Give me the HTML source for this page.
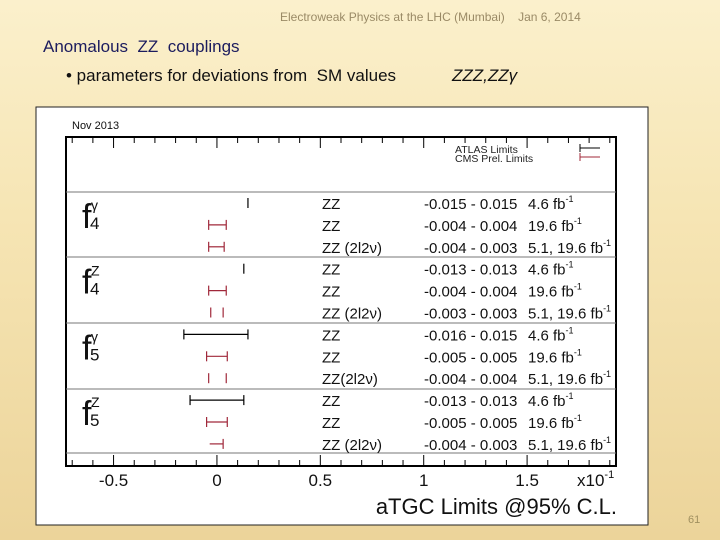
<!DOCTYPE html>
<html><head><meta charset="utf-8"><style>
body{margin:0;width:720px;height:540px;overflow:hidden;font-family:"Liberation Sans",sans-serif;
background:linear-gradient(180deg,#fbf0cc 0%,#f6e5b4 40%,#ecd49a 100%);position:relative}
.t{position:absolute;white-space:nowrap}
</style></head><body>
<div class="t" style="left:280px;top:10px;font-size:12px;color:#9a8a66">Electroweak Physics at the LHC (Mumbai) &nbsp;&nbsp; Jan 6, 2014</div>
<div class="t" style="left:43px;top:37px;font-size:17px;color:#1c1c5e">Anomalous&nbsp; ZZ&nbsp; couplings</div>
<div class="t" style="left:66px;top:66px;font-size:17px;color:#111">• parameters for deviations from&nbsp; SM values</div>
<div class="t" style="left:452px;top:66px;font-size:17px;color:#111;font-style:italic">ZZZ,ZZγ</div>
<div class="t" style="left:688px;top:514px;font-size:11px;color:#a09060">61</div>
<svg id="chart" style="position:absolute;left:0;top:0" width="720" height="540"></svg>
<script>
const rowLabels=["ZZ","ZZ","ZZ (2l2ν)","ZZ","ZZ","ZZ (2l2ν)","ZZ","ZZ","ZZ(2l2ν)","ZZ","ZZ","ZZ (2l2ν)"];
const limitText=["-0.015 - 0.015","-0.004 - 0.004","-0.004 - 0.003","-0.013 - 0.013","-0.004 - 0.004","-0.003 - 0.003","-0.016 - 0.015","-0.005 - 0.005","-0.004 - 0.004","-0.013 - 0.013","-0.005 - 0.005","-0.004 - 0.003"];
const lumiText=["4.6 fb","19.6 fb","5.1, 19.6 fb","4.6 fb","19.6 fb","5.1, 19.6 fb","4.6 fb","19.6 fb","5.1, 19.6 fb","4.6 fb","19.6 fb","5.1, 19.6 fb"];
const lowValues=[0.15,-0.04,-0.04,0.13,-0.04,-0.03,-0.16,-0.05,-0.04,-0.13,-0.05,-0.035];
const highValues=[0.15,0.045,0.035,0.13,0.045,0.03,0.15,0.05,0.045,0.13,0.05,0.03];
const experiment=["ATLAS","CMS","CMS","ATLAS","CMS","CMS","ATLAS","CMS","CMS","ATLAS","CMS","CMS"];
const drawMode=["cap","full","full","cap","full","caps","full","full","caps","full","full","right"];
const groupSup=["γ","Z","γ","Z"];
const groupSub=["4","4","5","5"];
const tickLabels=[-0.5,0,0.5,1,1.5];
const NS="http://www.w3.org/2000/svg";
const svg=document.getElementById('chart');
const X0=66,X1=616,V0=-0.73,V1=1.93;
function xs(v){return X0+(v-V0)/(V1-V0)*(X1-X0);}
function ys(i){return 203+i*21.9;}
function el(tag,a,parent){const e=document.createElementNS(NS,tag);for(const k in a)e.setAttribute(k,a[k]);(parent||svg).appendChild(e);return e;}
let r=el('rect',{x:36,y:107,width:612,height:418,fill:'#fff',stroke:'#222','stroke-width':1});


let t=el('text',{x:72,y:129,'font-size':11,fill:'#111'});t.textContent='Nov 2013';


let f=el('path',{d:`M${X0} 466 V137 H${X1} V466 Z`,fill:'none',stroke:'#000','stroke-width':2});


[192,257,323,389,453].forEach((y,i)=>{const l=el('line',{x1:X0,x2:X1,y1:y,y2:y,stroke:'#777','stroke-width':1});

});
for(let k=-7;k<=19;k++){const v=k/10,x=xs(v),maj=(k%5===0),len=maj?11:6;
el('line',{x1:x,x2:x,y1:466,y2:466-len,stroke:'#000','stroke-width':1});
el('line',{x1:x,x2:x,y1:137,y2:137+len,stroke:'#000','stroke-width':1});}
tickLabels.forEach(v=>{const tt=el('text',{x:xs(v),y:486,'font-size':17,'text-anchor':'middle',fill:'#111'});tt.textContent=String(v);

});
let sc=el('text',{x:577,y:486,'font-size':17,fill:'#111'});sc.innerHTML='x10<tspan font-size="11" dy="-8">-1</tspan>';


let xt=el('text',{x:617,y:514,'font-size':22,'text-anchor':'end',fill:'#111'});xt.textContent='aTGC Limits @95% C.L.';


[['ATLAS Limits','#000',151],['CMS Prel. Limits','#a0283a',160]].forEach(([s,c,y])=>{
const lt=el('text',{x:455,y:y+2,'font-size':10.5,fill:'#222'});lt.textContent=s;


el('line',{x1:580,x2:600,y1:y-3,y2:y-3,stroke:c,'stroke-width':1});
el('line',{x1:580,x2:580,y1:y-7,y2:y+1,stroke:c});});
groupSup.forEach((g,i)=>{const y0=ys(i*3);
const gt=el('text',{x:82,y:y0+25,'font-size':34,fill:'#111'});gt.textContent='f';


const sp=el('text',{x:91,y:y0+7,'font-size':14,fill:'#111'});sp.textContent=g;
const sb=el('text',{x:90,y:y0+26,'font-size':17,fill:'#111'});sb.textContent=groupSub[i];});
rowLabels.forEach((s,i)=>{const y=ys(i);const c=experiment[i]==='ATLAS'?'#000':'#a0283a';
const a=xs(lowValues[i]),b=xs(highValues[i]),m=drawMode[i];
const g=el('g',{});


if(m==='full'||m==='right')el('line',{x1:a,x2:b,y1:y,y2:y,stroke:c,'stroke-width':1.2},g);
if(m!=='right'&&m!=='cap')el('line',{x1:a,x2:a,y1:y-5,y2:y+5,stroke:c,'stroke-width':1.2},g);
el('line',{x1:b,x2:b,y1:y-5,y2:y+5,stroke:c,'stroke-width':1.2},g);
const p=el('text',{x:322,y:y+6,'font-size':15,fill:'#111'});p.textContent=s;


const q=el('text',{x:424,y:y+6,'font-size':15,fill:'#111'});q.textContent=limitText[i];


const w=el('text',{x:528,y:y+6,'font-size':15,fill:'#111'});w.innerHTML=lumiText[i]+'<tspan font-size="9" dy="-7">-1</tspan>';

});
</script>
</body></html>
